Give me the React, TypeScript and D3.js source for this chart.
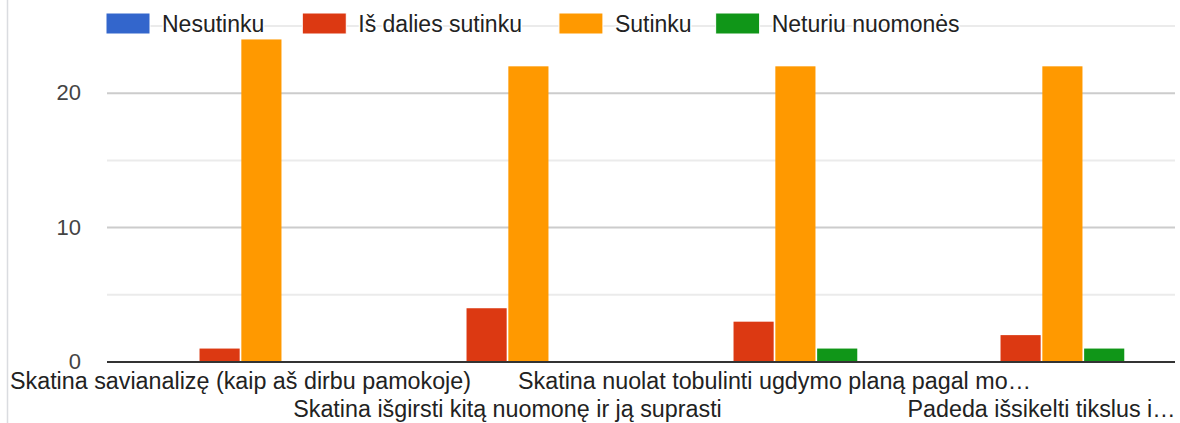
import { useEffect, useRef } from 'react';
import * as d3 from 'd3';

const categories = [
  'Skatina savianalizę (kaip aš dirbu pamokoje)',
  'Skatina išgirsti kitą nuomonę ir ją suprasti',
  'Skatina nuolat tobulinti ugdymo planą pagal mo…',
  'Padeda išsikelti tikslus i…',
];
const seriesNames = ['Nesutinku', 'Iš dalies sutinku', 'Sutinku', 'Neturiu nuomonės'];
const seriesColors = ['#3366cc', '#dc3912', '#ff9900', '#109618'];
const nesutinku = [0, 0, 0, 0];
const isDaliesSutinku = [1, 4, 3, 2];
const sutinku = [24, 22, 22, 22];
const neturiuNuomones = [0, 0, 1, 1];
const tickValues = [0, 5, 10, 15, 20, 25];
const labelledTicks = [0, 10, 20];

function App() {
  const svgRef = useRef(null);

  useEffect(() => {
    const width = 1180;
    const height = 423;
    const left = 107;
    const right = 1175;
    const font = 'Arial, "Liberation Sans", sans-serif';

    const svg = d3.select(svgRef.current);
    svg.selectAll('*').remove();
    svg.attr('width', width).attr('height', height);

    const values = [nesutinku, isDaliesSutinku, sutinku, neturiuNuomones];

    const x0 = d3
      .scaleBand()
      .domain(categories)
      .range([left, right])
      .paddingInner(0.38)
      .paddingOuter(0.19);
    const x1 = d3
      .scaleBand()
      .domain(seriesNames)
      .range([0, x0.bandwidth()])
      .paddingInner(0.04);
    const y = d3.scaleLinear().domain([0, 25]).range([362, 26]);

    // left border of the card
    svg
      .append('line')
      .attr('x1', 7.5)
      .attr('x2', 7.5)
      .attr('y1', 0)
      .attr('y2', height)
      .attr('stroke', '#dadce0')
      .attr('stroke-width', 1.5);

    // gridlines
    svg
      .append('g')
      .selectAll('line')
      .data(tickValues.filter((t) => t !== 0))
      .enter()
      .append('line')
      .attr('x1', left)
      .attr('x2', right)
      .attr('y1', (d) => y(d))
      .attr('y2', (d) => y(d))
      .attr('stroke', (d) => (labelledTicks.includes(d) ? '#cccccc' : '#ebebeb'))
      .attr('stroke-width', 2);

    // y tick labels
    svg
      .append('g')
      .selectAll('text')
      .data(labelledTicks)
      .enter()
      .append('text')
      .attr('x', 81)
      .attr('y', (d) => y(d) - 1)
      .attr('dy', '0.36em')
      .attr('text-anchor', 'end')
      .attr('font-family', font)
      .attr('font-size', '22px')
      .attr('fill', '#444')
      .text((d) => d);

    // bars
    const groups = svg
      .append('g')
      .selectAll('g')
      .data(categories)
      .enter()
      .append('g')
      .attr('transform', (d) => `translate(${x0(d)},0)`);

    groups
      .selectAll('rect')
      .data((d, i) => seriesNames.map((s, j) => ({ s, j, v: values[j][i] })))
      .enter()
      .filter((d) => d.v > 0)
      .append('rect')
      .attr('x', (d) => x1(d.s))
      .attr('y', (d) => y(d.v))
      .attr('width', x1.bandwidth())
      .attr('height', (d) => y(0) - y(d.v))
      .attr('fill', (d) => seriesColors[d.j]);

    // baseline
    svg
      .append('line')
      .attr('x1', left)
      .attr('x2', right)
      .attr('y1', y(0))
      .attr('y2', y(0))
      .attr('stroke', '#333')
      .attr('stroke-width', 2);

    // category labels, staggered in two rows
    svg
      .append('g')
      .selectAll('text')
      .data(categories)
      .enter()
      .append('text')
      .attr('x', (d) => x0(d) + x0.bandwidth() / 2)
      .attr('y', (d, i) => (i % 2 === 0 ? 389 : 417))
      .attr('text-anchor', 'middle')
      .attr('font-family', font)
      .attr('font-size', '23.3px')
      .attr('fill', '#222')
      .text((d) => d);

    // legend
    const legendGaps = [38, 37, 24, 0];
    const legend = svg.append('g');
    let lx = 106;
    seriesNames.forEach((name, i) => {
      legend
        .append('rect')
        .attr('x', lx)
        .attr('y', 13)
        .attr('width', 44)
        .attr('height', 21)
        .attr('fill', seriesColors[i])
        .attr('stroke', 'white')
        .attr('stroke-width', 1);
      const t = legend
        .append('text')
        .attr('x', lx + 56)
        .attr('y', 24)
        .attr('dy', '0.36em')
        .attr('font-family', font)
        .attr('font-size', '23px')
        .attr('fill', '#222')
        .attr('stroke', 'white')
        .attr('stroke-width', 3)
        .attr('paint-order', 'stroke')
        .text(name);
      lx += 56 + t.node().getComputedTextLength() + legendGaps[i];
    });
  }, []);

  return (
    <svg
      ref={svgRef}
      style={{ position: 'absolute', left: 0, top: 0, background: 'white' }}
    ></svg>
  );
}

export default App;
